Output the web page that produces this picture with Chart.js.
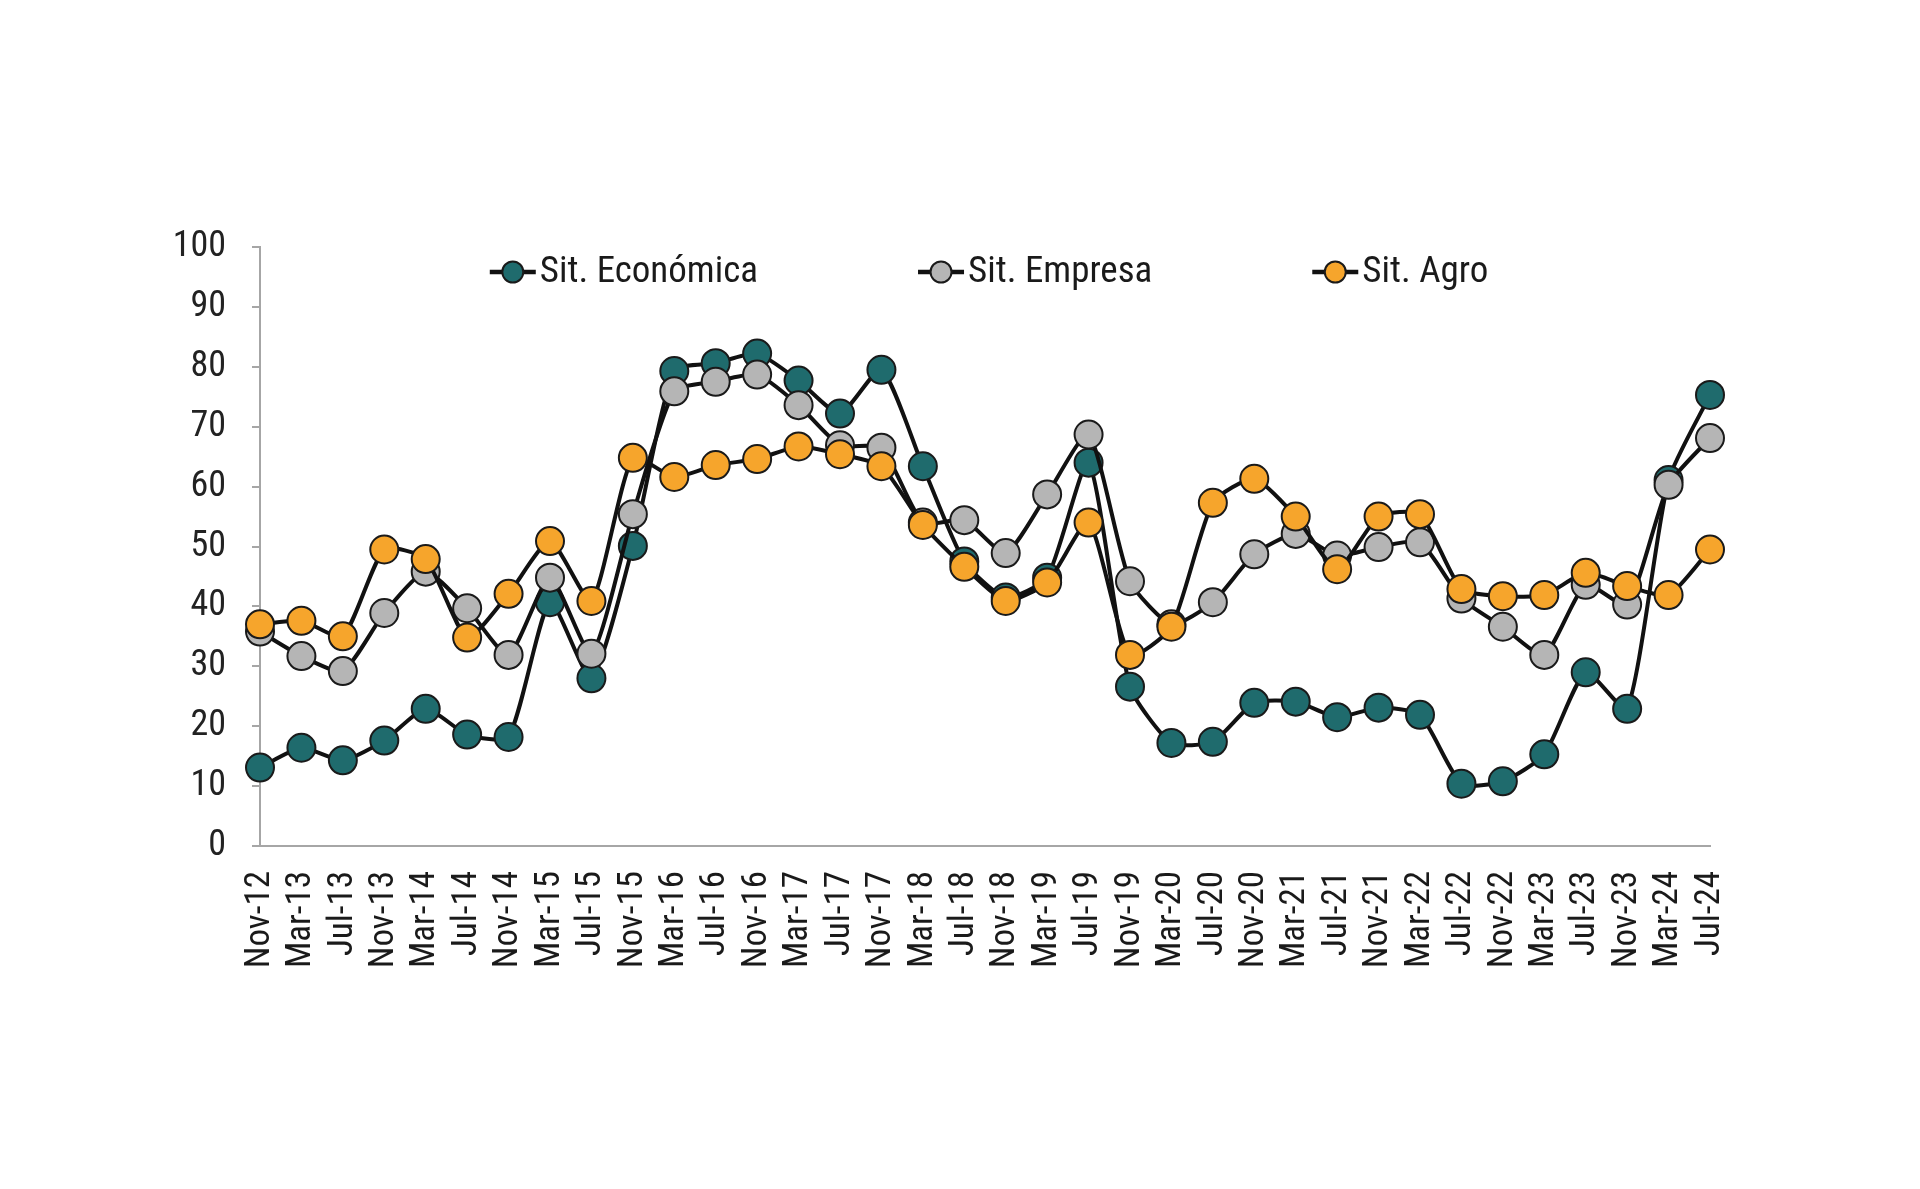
<!DOCTYPE html>
<html lang="es">
<head>
<meta charset="UTF-8">
<title>Expectativas</title>
<script src="https://cdn.jsdelivr.net/npm/chart.js"></script>
<style>
  body { margin: 0; background: #fff; }
  canvas { display: block; }
</style>
</head>
<body>
<canvas id="chart" width="1920" height="1189"></canvas>
<script>
  // fechas de las encuestas
  const labels = ['Nov-12', 'Mar-13', 'Jul-13', 'Nov-13', 'Mar-14', 'Jul-14', 'Nov-14', 'Mar-15', 'Jul-15',
    'Nov-15', 'Mar-16', 'Jul-16', 'Nov-16', 'Mar-17', 'Jul-17', 'Nov-17', 'Mar-18', 'Jul-18', 'Nov-18',
    'Mar-19', 'Jul-19', 'Nov-19', 'Mar-20', 'Jul-20', 'Nov-20', 'Mar-21', 'Jul-21', 'Nov-21', 'Mar-22',
    'Jul-22', 'Nov-22', 'Mar-23', 'Jul-23', 'Nov-23', 'Mar-24', 'Jul-24'];

  const sitEconomica = [13.1, 16.4, 14.3, 17.6, 22.9, 18.6, 18.2, 40.7, 28.0, 50.1, 79.3, 80.6, 82.2, 77.7,
    72.2, 79.5, 63.4, 47.5, 41.5, 44.8, 64.0, 26.6, 17.2, 17.4, 23.9, 24.1, 21.5, 23.1, 21.9, 10.4, 10.8,
    15.3, 29.0, 22.9, 61.1, 75.3];

  const sitEmpresa = [35.8, 31.7, 29.2, 38.9, 45.8, 39.7, 31.9, 44.8, 32.1, 55.4, 75.9, 77.5, 78.7, 73.6,
    66.9, 66.5, 54.0, 54.4, 48.9, 58.7, 68.7, 44.2, 37.0, 40.7, 48.7, 52.1, 48.5, 49.9, 50.7, 41.3, 36.6,
    31.9, 43.6, 40.3, 60.3, 68.1];

  const sitAgro = [37.0, 37.6, 35.0, 49.5, 47.9, 34.8, 42.1, 50.9, 40.9, 64.8, 61.6, 63.6, 64.6, 66.7,
    65.4, 63.4, 53.6, 46.6, 40.9, 44.0, 54.0, 31.9, 36.6, 57.3, 61.3, 55.0, 46.2, 55.0, 55.4, 42.9, 41.7,
    41.9, 45.6, 43.4, 41.9, 49.5];

  const fontFamily = "'Roboto Condensed', 'Liberation Sans Narrow', 'DejaVu Sans Condensed', 'Noto Sans', sans-serif";
  const axisGray = '#a6a6a6';

  function serie(label, data, color, order) {
    return {
      label: label,
      data: data,
      order: order,
      borderColor: '#111',
      borderWidth: 4,
      tension: 0.2,
      pointRadius: 14,
      pointHoverRadius: 14,
      pointBackgroundColor: color,
      pointBorderColor: '#1a1a1a',
      pointBorderWidth: 2
    };
  }

  // leyenda dentro del area del grafico: linea + marcador
  const lineLegend = {
    id: 'lineLegend',
    afterDraw(chart) {
      const ctx = chart.ctx;
      const area = chart.chartArea;
      const y = area.top + 25;
      const gap = 156;
      ctx.save();
      ctx.font = '37px ' + fontFamily;
      const items = chart.data.datasets.map(ds => ({ ds: ds, w: 54 + ctx.measureText(ds.label).width }));
      const total = items.reduce((s, it) => s + it.w, 0) + gap * (items.length - 1);
      let x = (area.left + area.right) / 2 - total / 2 + 6;
      items.forEach(it => {
        ctx.strokeStyle = '#111';
        ctx.lineWidth = 4.5;
        ctx.beginPath();
        ctx.moveTo(x, y);
        ctx.lineTo(x + 46, y);
        ctx.stroke();
        ctx.beginPath();
        ctx.arc(x + 23, y, 10.5, 0, Math.PI * 2);
        ctx.fillStyle = it.ds.pointBackgroundColor;
        ctx.fill();
        ctx.lineWidth = 2;
        ctx.strokeStyle = '#1a1a1a';
        ctx.stroke();
        ctx.fillStyle = '#1a1a1a';
        ctx.textBaseline = 'middle';
        ctx.textAlign = 'left';
        ctx.fillText(it.ds.label, x + 50, y + 1);
        x += it.w + gap;
      });
      ctx.restore();
    }
  };

  const ctx = document.getElementById('chart').getContext('2d');
  new Chart(ctx, {
    type: 'line',
    data: {
      labels: labels,
      datasets: [
        serie('Sit. Económica', sitEconomica, '#1f6b6d', 3),
        serie('Sit. Empresa', sitEmpresa, '#b5b5b5', 2),
        serie('Sit. Agro', sitAgro, '#f6a52c', 1)
      ]
    },
    options: {
      responsive: false,
      animation: false,
      layout: { padding: { left: 0, right: 210, top: 247, bottom: 213 } },
      plugins: {
        legend: { display: false },
        tooltip: { enabled: false }
      },
      scales: {
        x: {
          offset: false,
          afterFit: s => { s.height = 130; },
          grid: { display: false },
          border: { display: true, color: axisGray, width: 2 },
          ticks: {
            autoSkip: false,
            minRotation: 90,
            maxRotation: 90,
            padding: 17,
            color: '#1a1a1a',
            font: { family: fontFamily, size: 35 }
          }
        },
        y: {
          min: 0,
          max: 100,
          afterFit: s => { s.width = 260; },
          grid: { drawOnChartArea: false, drawTicks: true, tickLength: 8, color: axisGray, lineWidth: 2 },
          border: { display: true, color: axisGray, width: 2 },
          ticks: {
            stepSize: 10,
            padding: 26,
            color: '#222',
            font: { family: fontFamily, size: 36 }
          }
        }
      }
    },
    plugins: [lineLegend]
  });
</script>
</body>
</html>
